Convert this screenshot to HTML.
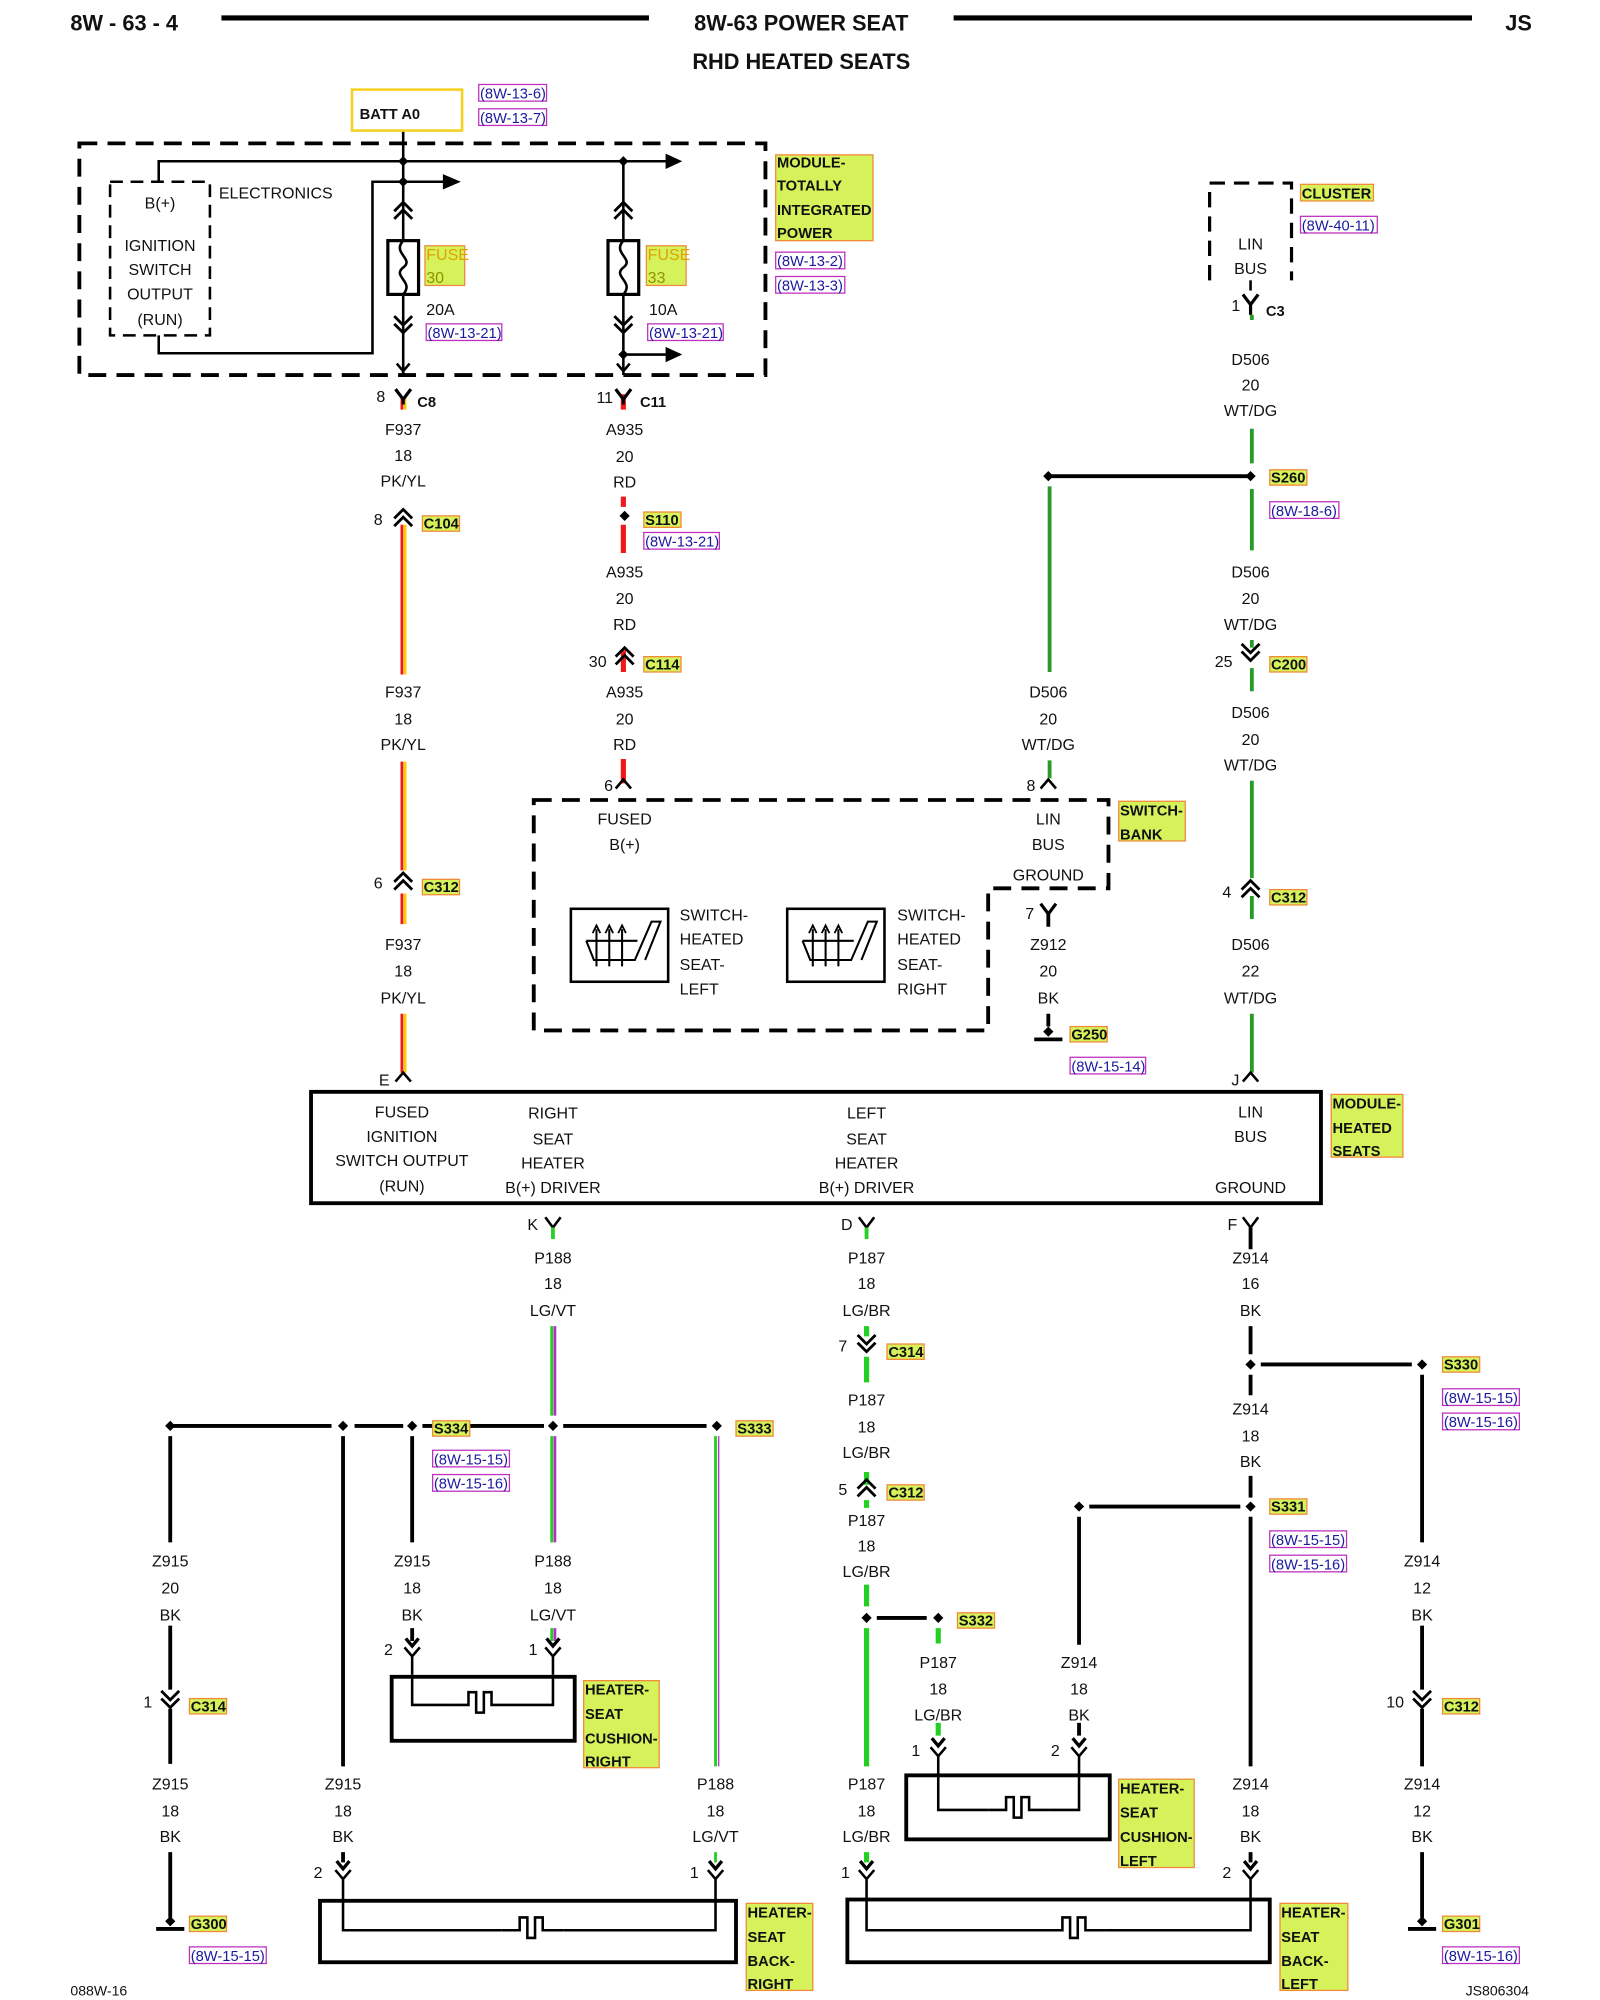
<!DOCTYPE html>
<html><head><meta charset="utf-8"><style>
html,body{margin:0;padding:0;background:#fff}
svg{display:block}
text{font-family:"Liberation Sans",sans-serif;font-size:12.5px;fill:#111}
.m{text-anchor:middle}
.b{font-weight:bold}
.r{font-size:11.5px;fill:#1a1aa0}
.t{font-weight:bold;font-size:11.5px}
.k{stroke:#000;stroke-width:3;fill:none}
.d{stroke:#000;stroke-width:3;fill:none;stroke-dasharray:14 8}
.th{stroke:#000;stroke-width:2;fill:none}
</style></head><body>
<svg width="1600" height="2000" viewBox="0 0 1250 1562.5" xmlns="http://www.w3.org/2000/svg">
<defs>
<g id="Y"><path d="M-6,-8 L0,0 L6,-8 M0,0 V4" stroke="#000" stroke-width="2.5" fill="none"/></g>
<g id="U"><path d="M-7,5 L0,-2 L7,5 M-7,11 L0,4 L7,11" stroke="#000" stroke-width="2.2" fill="none"/></g>
<g id="V"><path d="M-7,-5 L0,2 L7,-5 M-7,-11 L0,-4 L7,-11" stroke="#000" stroke-width="2.2" fill="none"/></g>
<g id="T"><path d="M-5,-14 L0,-8 L5,-14" stroke="#000" stroke-width="2.6" fill="none"/><path d="M-6,-7 L0,0 L6,-7 M0,0 V14" stroke="#000" stroke-width="2" fill="none"/></g>
<g id="D"><path d="M0,-4 L4,0 L0,4 L-4,0Z" fill="#000"/></g>
<g id="G"><path d="M0,-4 L4,0 L0,4 L-4,0Z" fill="#000"/><path d="M-11,6 H11" stroke="#000" stroke-width="3"/></g>
<g id="H"><path d="M-24,0 H-10 V-10 H-4 V6 H2 V-10 H8 V0 H24" stroke="#000" stroke-width="2" fill="none"/></g>
<g id="SW"><rect x="0" y="0" width="76" height="57" fill="none" stroke="#000" stroke-width="2"/><path d="M12,25 L18,40 H50 L63,10 H70 L58,40 M20,45 V16 M30,45 V16 M40,45 V16 M12,25 H52" stroke="#000" stroke-width="1.6" fill="none"/><path d="M17,19 L20,13 L23,19 M27,19 L30,13 L33,19 M37,19 L40,13 L43,19" stroke="#000" stroke-width="1.4" fill="none"/></g>
</defs>

<!-- header -->
<text x="55" y="24" class="b" style="font-size:17px">8W - 63 - 4</text>
<line x1="173" y1="14" x2="507" y2="14" stroke="#000" stroke-width="4"/>
<text x="626" y="24" class="b m" style="font-size:17px">8W-63 POWER SEAT</text>
<line x1="745" y1="14" x2="1150" y2="14" stroke="#000" stroke-width="4"/>
<text x="1176" y="24" class="b" style="font-size:17px">JS</text>
<text x="626" y="54" class="b m" style="font-size:17px">RHD HEATED SEATS</text>

<!-- BATT -->
<rect x="275" y="70" width="86" height="32" fill="none" stroke="#f5d020" stroke-width="2"/>
<text x="281" y="93" class="t">BATT A0</text>
<rect x="374" y="66" width="53" height="13" fill="none" stroke="#c030c0"/><text x="375" y="77" class="r">(8W-13-6)</text>
<rect x="374" y="85" width="53" height="13" fill="none" stroke="#c030c0"/><text x="375" y="96" class="r">(8W-13-7)</text>

<!-- TIPM -->
<rect x="62" y="112" width="536" height="181" class="d"/>
<path d="M315,103 V293 M124,142 V126 H522" class="th"/>
<path d="M520,120 L533,126 L520,132Z"/>
<rect x="86" y="142" width="78" height="120" class="d" style="stroke-width:2;stroke-dasharray:10 6"/>
<text x="171" y="155">ELECTRONICS</text>
<text x="125" y="163" class="m">B(+)</text>
<text x="125" y="196" class="m">IGNITION</text>
<text x="125" y="215" class="m">SWITCH</text>
<text x="125" y="234" class="m">OUTPUT</text>
<text x="125" y="254" class="m">(RUN)</text>
<path d="M124,262 V276 H291 V142 H348" class="th"/>
<path d="M346,136 L360,142 L346,148Z"/>
<path d="M487,126 V293 M487,277 H522" class="th"/>
<path d="M520,271 L533,277 L520,283Z"/>
<use href="#D" x="315" y="126"/><use href="#D" x="487" y="126"/><use href="#D" x="315" y="142"/><use href="#D" x="487" y="277"/>
<use href="#U" x="315" y="160"/><use href="#U" x="487" y="160"/>
<use href="#V" x="315" y="258"/><use href="#V" x="487" y="258"/>
<path d="M315,290 l-5,-6 M315,290 l5,-6 M487,290 l-5,-6 M487,290 l5,-6" class="th"/>
<rect x="303" y="188" width="24" height="42" fill="#fff" stroke="#000" stroke-width="2.5"/>
<path d="M315,188 C306,198 324,202 315,209 C306,216 324,220 315,230" class="th" stroke-width="1.5"/>
<rect x="475" y="188" width="24" height="42" fill="#fff" stroke="#000" stroke-width="2.5"/>
<path d="M487,188 C478,198 496,202 487,209 C478,216 496,220 487,230" class="th" stroke-width="1.5"/>
<rect x="332" y="192" width="31" height="31" fill="#d6f25a" stroke="#f08a3a"/>
<text x="333" y="203" style="fill:#e0a000">FUSE</text><text x="333" y="221" style="fill:#909000">30</text>
<rect x="505" y="192" width="31" height="31" fill="#d6f25a" stroke="#f08a3a"/>
<text x="506" y="203" style="fill:#e0a000">FUSE</text><text x="506" y="221" style="fill:#909000">33</text>
<text x="333" y="246">20A</text>
<rect x="333" y="253" width="59" height="13" fill="none" stroke="#c030c0"/><text x="334" y="264" class="r">(8W-13-21)</text>
<text x="507" y="246">10A</text>
<rect x="506" y="253" width="59" height="13" fill="none" stroke="#c030c0"/><text x="507" y="264" class="r">(8W-13-21)</text>
<rect x="606" y="121" width="76" height="67" fill="#d6f25a" stroke="#f08a3a"/>
<text x="607" y="131" class="t">MODULE-</text><text x="607" y="149" class="t">TOTALLY</text><text x="607" y="168" class="t">INTEGRATED</text><text x="607" y="186" class="t">POWER</text>
<rect x="606" y="197" width="54" height="13" fill="none" stroke="#c030c0"/><text x="607" y="208" class="r">(8W-13-2)</text>
<rect x="606" y="216" width="54" height="13" fill="none" stroke="#c030c0"/><text x="607" y="227" class="r">(8W-13-3)</text>

<!-- F937 column -->
<g stroke-width="2.2">
<path d="M314,310 V320 M314,410 V527 M314,595 V680 M314,698 V722 M314,792 V838" stroke="#f01818"/>
<path d="M316.5,310 V320 M316.5,410 V527 M316.5,595 V680 M316.5,698 V722 M316.5,792 V838" stroke="#f5d000"/>
</g>
<use href="#Y" x="315" y="312"/>
<text x="294" y="314">8</text><text x="326" y="318" class="t">C8</text>
<text x="315" y="340" class="m">F937</text><text x="315" y="360" class="m">18</text><text x="315" y="380" class="m">PK/YL</text>
<use href="#U" x="315" y="400"/><text x="292" y="410">8</text>
<rect x="330" y="403" width="29" height="12" fill="#d6f25a" stroke="#f08a3a"/><text x="331" y="413" class="t">C104</text>
<text x="315" y="545" class="m">F937</text><text x="315" y="566" class="m">18</text><text x="315" y="586" class="m">PK/YL</text>
<use href="#U" x="315" y="684"/><text x="292" y="694">6</text>
<rect x="330" y="687" width="29" height="12" fill="#d6f25a" stroke="#f08a3a"/><text x="331" y="697" class="t">C312</text>
<text x="315" y="742" class="m">F937</text><text x="315" y="763" class="m">18</text><text x="315" y="784" class="m">PK/YL</text>
<path d="M309,845 L315,838 L321,845" class="th"/><text x="296" y="848">E</text>

<!-- A935 -->
<path d="M487,308 V320 M487,388 V396 M487,410 V432 M487,508 V525 M487,593 V612" stroke="#f01818" stroke-width="4"/>
<use href="#Y" x="487" y="312"/>
<text x="466" y="315">11</text><text x="500" y="318" class="t">C11</text>
<text x="488" y="340" class="m">A935</text><text x="488" y="361" class="m">20</text><text x="488" y="381" class="m">RD</text>
<use href="#D" x="488" y="403"/>
<rect x="503" y="400" width="29" height="12" fill="#d6f25a" stroke="#f08a3a"/><text x="504" y="410" class="t">S110</text>
<rect x="503" y="416" width="59" height="13" fill="none" stroke="#c030c0"/><text x="504" y="427" class="r">(8W-13-21)</text>
<text x="488" y="451" class="m">A935</text><text x="488" y="472" class="m">20</text><text x="488" y="492" class="m">RD</text>
<use href="#U" x="488" y="508"/><text x="460" y="521">30</text>
<rect x="503" y="513" width="29" height="12" fill="#d6f25a" stroke="#f08a3a"/><text x="504" y="523" class="t">C114</text>
<text x="488" y="545" class="m">A935</text><text x="488" y="566" class="m">20</text><text x="488" y="586" class="m">RD</text>
<path d="M481,616 L487,609 L493,616" class="th"/><text x="472" y="618">6</text>

<!-- switch bank -->
<path d="M417,625 H866 V694 H772 V805 H417 Z" class="d"/>
<text x="488" y="644" class="m">FUSED</text><text x="488" y="664" class="m">B(+)</text>
<text x="819" y="644" class="m">LIN</text><text x="819" y="664" class="m">BUS</text><text x="819" y="688" class="m">GROUND</text>
<use href="#SW" x="446" y="710"/><use href="#SW" x="615" y="710"/>
<text x="531" y="719">SWITCH-</text><text x="531" y="738">HEATED</text><text x="531" y="758">SEAT-</text><text x="531" y="777">LEFT</text>
<text x="701" y="719">SWITCH-</text><text x="701" y="738">HEATED</text><text x="701" y="758">SEAT-</text><text x="701" y="777">RIGHT</text>
<rect x="874" y="626" width="52" height="31" fill="#d6f25a" stroke="#f08a3a"/>
<text x="875" y="637" class="t">SWITCH-</text><text x="875" y="656" class="t">BANK</text>
<path d="M819,714 V724 M819,792 V802" stroke="#000" stroke-width="3"/>
<path d="M813,706 L819,714 L825,706" stroke="#000" stroke-width="2.5" fill="none"/>
<text x="801" y="718">7</text>
<text x="819" y="742" class="m">Z912</text><text x="819" y="763" class="m">20</text><text x="819" y="784" class="m">BK</text>
<use href="#G" x="819" y="806"/>
<rect x="836" y="802" width="29" height="12" fill="#d6f25a" stroke="#f08a3a"/><text x="837" y="812" class="t">G250</text>
<rect x="836" y="826" width="59" height="13" fill="none" stroke="#c030c0"/><text x="837" y="837" class="r">(8W-15-14)</text>

<!-- D506 left -->
<path d="M819,372 H977" class="k" stroke-width="2.5"/>
<use href="#D" x="819" y="372"/><use href="#D" x="977" y="372"/>
<path d="M820,380 V525 M820,594 V608" stroke="#2a9a2a" stroke-width="3"/>
<text x="819" y="545" class="m">D506</text><text x="819" y="566" class="m">20</text><text x="819" y="586" class="m">WT/DG</text>
<path d="M813,616 L819,609 L825,616" class="th"/><text x="802" y="618">8</text>

<!-- cluster -->
<path d="M945,219 V143 H1009 V219" class="d" style="stroke-width:2.5;stroke-dasharray:12 7"/>
<text x="977" y="195" class="m">LIN</text><text x="977" y="214" class="m">BUS</text>
<rect x="1016" y="144" width="57" height="13" fill="#d6f25a" stroke="#f08a3a"/><text x="1017" y="155" class="t">CLUSTER</text>
<rect x="1016" y="169" width="60" height="13" fill="none" stroke="#c030c0"/><text x="1017" y="180" class="r">(8W-40-11)</text>
<path d="M977,219 V227" stroke="#000" stroke-width="2"/>
<path d="M971,230 L977,238 L983,230 M977,238 V246" stroke="#000" stroke-width="2.5" fill="none"/>
<text x="962" y="243">1</text><text x="989" y="247" class="t">C3</text>
<g stroke="#2a9a2a" stroke-width="3">
<path d="M978,246 V250 M978,335 V362 M978,382 V430 M978,500 V506 M978,522 V540 M978,610 V686 M978,700 V718 M978,792 V838"/>
</g>
<text x="977" y="285" class="m">D506</text><text x="977" y="305" class="m">20</text><text x="977" y="325" class="m">WT/DG</text>
<rect x="992" y="367" width="29" height="12" fill="#d6f25a" stroke="#f08a3a"/><text x="993" y="377" class="t">S260</text>
<rect x="992" y="392" width="54" height="13" fill="none" stroke="#c030c0"/><text x="993" y="403" class="r">(8W-18-6)</text>
<text x="977" y="451" class="m">D506</text><text x="977" y="472" class="m">20</text><text x="977" y="492" class="m">WT/DG</text>
<use href="#V" x="977" y="514"/><text x="949" y="521">25</text>
<rect x="992" y="513" width="29" height="12" fill="#d6f25a" stroke="#f08a3a"/><text x="993" y="523" class="t">C200</text>
<text x="977" y="561" class="m">D506</text><text x="977" y="582" class="m">20</text><text x="977" y="602" class="m">WT/DG</text>
<use href="#U" x="977" y="690"/><text x="955" y="701">4</text>
<rect x="992" y="695" width="29" height="12" fill="#d6f25a" stroke="#f08a3a"/><text x="993" y="705" class="t">C312</text>
<text x="977" y="742" class="m">D506</text><text x="977" y="763" class="m">22</text><text x="977" y="784" class="m">WT/DG</text>
<path d="M971,845 L977,838 L983,845" class="th"/><text x="962" y="848">J</text>

<!-- heated seats module -->
<rect x="243" y="853" width="789" height="87" fill="none" stroke="#000" stroke-width="3"/>
<text x="314" y="873" class="m">FUSED</text><text x="314" y="892" class="m">IGNITION</text><text x="314" y="911" class="m">SWITCH OUTPUT</text><text x="314" y="931" class="m">(RUN)</text>
<text x="432" y="874" class="m">RIGHT</text><text x="432" y="894" class="m">SEAT</text><text x="432" y="913" class="m">HEATER</text><text x="432" y="932" class="m">B(+) DRIVER</text>
<text x="677" y="874" class="m">LEFT</text><text x="677" y="894" class="m">SEAT</text><text x="677" y="913" class="m">HEATER</text><text x="677" y="932" class="m">B(+) DRIVER</text>
<text x="977" y="873" class="m">LIN</text><text x="977" y="892" class="m">BUS</text><text x="977" y="932" class="m">GROUND</text>
<rect x="1040" y="855" width="56" height="49" fill="#d6f25a" stroke="#f08a3a"/>
<text x="1041" y="866" class="t">MODULE-</text><text x="1041" y="885" class="t">HEATED</text><text x="1041" y="903" class="t">SEATS</text>

<!-- connectors under module -->
<path d="M426,951 L432,959 L438,951" class="th" stroke-width="2.5"/><text x="412" y="961">K</text>
<path d="M671,951 L677,959 L683,951" class="th" stroke-width="2.5"/><text x="657" y="961">D</text>
<path d="M971,951 L977,959 L983,951" class="th" stroke-width="2.5"/><text x="959" y="961">F</text>
<path d="M432,959 V968 M677,959 V968" stroke="#2ad02a" stroke-width="3"/>
<path d="M977,959 V968" stroke="#000" stroke-width="3"/>

<!-- P188 -->
<g stroke-width="2.2">
<path d="M431,1036 V1106 M431,1122 V1205 M431,1272 V1282 M559,1122 V1380 M559,1447 V1455" stroke="#22d022"/>
<path d="M433.5,1036 V1106 M433.5,1122 V1205 M433.5,1272 V1282" stroke="#b030c0"/>
<path d="M561.5,1122 V1380" stroke="#b030c0" stroke-width="1"/>
</g>
<text x="432" y="987" class="m">P188</text><text x="432" y="1007" class="m">18</text><text x="432" y="1028" class="m">LG/VT</text>
<path d="M133,1114 H259 M277,1114 H315 M330,1114 H425 M440,1114 H552" class="k" stroke-width="2.5"/>
<use href="#D" x="133" y="1114"/><use href="#D" x="268" y="1114"/><use href="#D" x="322" y="1114"/><use href="#D" x="432" y="1114"/><use href="#D" x="560" y="1114"/>
<rect x="338" y="1110" width="29" height="12" fill="#d6f25a" stroke="#f08a3a"/><text x="339" y="1120" class="t">S334</text>
<rect x="338" y="1133" width="60" height="13" fill="none" stroke="#c030c0"/><text x="339" y="1144" class="r">(8W-15-15)</text>
<rect x="338" y="1152" width="60" height="13" fill="none" stroke="#c030c0"/><text x="339" y="1163" class="r">(8W-15-16)</text>
<rect x="575" y="1110" width="29" height="12" fill="#d6f25a" stroke="#f08a3a"/><text x="576" y="1120" class="t">S333</text>

<path d="M133,1122 V1205 M133,1270 V1320 M133,1335 V1378 M133,1447 V1498 M268,1122 V1380 M268,1447 V1455 M322,1122 V1205 M322,1272 V1282" class="k"/>
<text x="133" y="1224" class="m">Z915</text><text x="133" y="1245" class="m">20</text><text x="133" y="1266" class="m">BK</text>
<use href="#V" x="133" y="1332"/><text x="112" y="1334">1</text>
<rect x="148" y="1327" width="29" height="12" fill="#d6f25a" stroke="#f08a3a"/><text x="149" y="1337" class="t">C314</text>
<text x="133" y="1398" class="m">Z915</text><text x="133" y="1419" class="m">18</text><text x="133" y="1439" class="m">BK</text>
<use href="#G" x="133" y="1501"/>
<rect x="148" y="1497" width="29" height="12" fill="#d6f25a" stroke="#f08a3a"/><text x="149" y="1507" class="t">G300</text>
<rect x="148" y="1521" width="60" height="13" fill="none" stroke="#c030c0"/><text x="149" y="1532" class="r">(8W-15-15)</text>
<text x="268" y="1398" class="m">Z915</text><text x="268" y="1419" class="m">18</text><text x="268" y="1439" class="m">BK</text>
<text x="322" y="1224" class="m">Z915</text><text x="322" y="1245" class="m">18</text><text x="322" y="1266" class="m">BK</text>
<text x="432" y="1224" class="m">P188</text><text x="432" y="1245" class="m">18</text><text x="432" y="1266" class="m">LG/VT</text>
<text x="559" y="1398" class="m">P188</text><text x="559" y="1419" class="m">18</text><text x="559" y="1439" class="m">LG/VT</text>
<use href="#T" x="322" y="1294"/><text x="300" y="1293">2</text>
<use href="#T" x="432" y="1294"/><text x="413" y="1293">1</text>
<use href="#T" x="268" y="1468"/><text x="245" y="1467">2</text>
<use href="#T" x="559" y="1468"/><text x="539" y="1467">1</text>

<!-- cushion right -->
<rect x="306" y="1310" width="143" height="50" fill="none" stroke="#000" stroke-width="3"/>
<path d="M322,1308 V1332 H352 M400,1332 H432 V1308" class="th"/>
<use href="#H" x="376" y="1332"/>
<rect x="456" y="1313" width="59" height="68" fill="#d6f25a" stroke="#f08a3a"/>
<text x="457" y="1324" class="t">HEATER-</text><text x="457" y="1343" class="t">SEAT</text><text x="457" y="1362" class="t">CUSHION-</text><text x="457" y="1380" class="t">RIGHT</text>

<!-- back right -->
<rect x="250" y="1485" width="325" height="48" fill="none" stroke="#000" stroke-width="3"/>
<path d="M268,1482 V1508 H392 M440,1508 H559 V1482" class="th"/>
<use href="#H" x="416" y="1508"/>
<rect x="583" y="1487" width="52" height="68" fill="#d6f25a" stroke="#f08a3a"/>
<text x="584" y="1498" class="t">HEATER-</text><text x="584" y="1517" class="t">SEAT</text><text x="584" y="1536" class="t">BACK-</text><text x="584" y="1554" class="t">RIGHT</text>

<!-- P187 -->
<g stroke="#22d022" stroke-width="4">
<path d="M677,1036 V1044 M677,1060 V1080 M677,1150 V1160 M677,1172 V1178 M677,1238 V1255 M677,1272 V1380 M677,1447 V1455 M733,1272 V1284 M733,1346 V1356"/>
</g>
<text x="677" y="987" class="m">P187</text><text x="677" y="1007" class="m">18</text><text x="677" y="1028" class="m">LG/BR</text>
<use href="#V" x="677" y="1054"/><text x="655" y="1056">7</text>
<rect x="693" y="1050" width="29" height="12" fill="#d6f25a" stroke="#f08a3a"/><text x="694" y="1060" class="t">C314</text>
<text x="677" y="1098" class="m">P187</text><text x="677" y="1119" class="m">18</text><text x="677" y="1139" class="m">LG/BR</text>
<use href="#U" x="677" y="1158"/><text x="655" y="1168">5</text>
<rect x="693" y="1160" width="29" height="12" fill="#d6f25a" stroke="#f08a3a"/><text x="694" y="1170" class="t">C312</text>
<text x="677" y="1192" class="m">P187</text><text x="677" y="1212" class="m">18</text><text x="677" y="1232" class="m">LG/BR</text>
<path d="M685,1264 H724" class="k" stroke-width="2.5"/>
<use href="#D" x="677" y="1264"/><use href="#D" x="733" y="1264"/>
<rect x="748" y="1260" width="29" height="12" fill="#d6f25a" stroke="#f08a3a"/><text x="749" y="1270" class="t">S332</text>
<text x="733" y="1303" class="m">P187</text><text x="733" y="1324" class="m">18</text><text x="733" y="1344" class="m">LG/BR</text>
<use href="#T" x="733" y="1372"/><text x="712" y="1372">1</text>
<text x="677" y="1398" class="m">P187</text><text x="677" y="1419" class="m">18</text><text x="677" y="1439" class="m">LG/BR</text>
<use href="#T" x="677" y="1468"/><text x="657" y="1467">1</text>

<!-- Z914 -->
<path d="M977,968 V976 M977,1036 V1058 M977,1074 V1090 M977,1153 V1170 M977,1185 V1380 M977,1447 V1455 M843,1185 V1285 M843,1346 V1356 M1111,1074 V1205 M1111,1270 V1320 M1111,1335 V1380 M1111,1447 V1498" class="k"/>
<path d="M985,1066 H1103 M851,1177 H969" class="k" stroke-width="2.5"/>
<use href="#D" x="977" y="1066"/><use href="#D" x="1111" y="1066"/><use href="#D" x="977" y="1177"/><use href="#D" x="843" y="1177"/>
<text x="977" y="987" class="m">Z914</text><text x="977" y="1007" class="m">16</text><text x="977" y="1028" class="m">BK</text>
<rect x="1127" y="1060" width="29" height="12" fill="#d6f25a" stroke="#f08a3a"/><text x="1128" y="1070" class="t">S330</text>
<rect x="1127" y="1085" width="60" height="13" fill="none" stroke="#c030c0"/><text x="1128" y="1096" class="r">(8W-15-15)</text>
<rect x="1127" y="1104" width="60" height="13" fill="none" stroke="#c030c0"/><text x="1128" y="1115" class="r">(8W-15-16)</text>
<text x="977" y="1105" class="m">Z914</text><text x="977" y="1126" class="m">18</text><text x="977" y="1146" class="m">BK</text>
<rect x="992" y="1171" width="29" height="12" fill="#d6f25a" stroke="#f08a3a"/><text x="993" y="1181" class="t">S331</text>
<rect x="992" y="1196" width="60" height="13" fill="none" stroke="#c030c0"/><text x="993" y="1207" class="r">(8W-15-15)</text>
<rect x="992" y="1215" width="60" height="13" fill="none" stroke="#c030c0"/><text x="993" y="1226" class="r">(8W-15-16)</text>
<text x="843" y="1303" class="m">Z914</text><text x="843" y="1324" class="m">18</text><text x="843" y="1344" class="m">BK</text>
<use href="#T" x="843" y="1372"/><text x="821" y="1372">2</text>
<text x="1111" y="1224" class="m">Z914</text><text x="1111" y="1245" class="m">12</text><text x="1111" y="1266" class="m">BK</text>
<use href="#V" x="1111" y="1332"/><text x="1083" y="1334">10</text>
<rect x="1127" y="1327" width="29" height="12" fill="#d6f25a" stroke="#f08a3a"/><text x="1128" y="1337" class="t">C312</text>
<text x="977" y="1398" class="m">Z914</text><text x="977" y="1419" class="m">18</text><text x="977" y="1439" class="m">BK</text>
<use href="#T" x="977" y="1468"/><text x="955" y="1467">2</text>
<text x="1111" y="1398" class="m">Z914</text><text x="1111" y="1419" class="m">12</text><text x="1111" y="1439" class="m">BK</text>
<use href="#G" x="1111" y="1501"/>
<rect x="1127" y="1497" width="29" height="12" fill="#d6f25a" stroke="#f08a3a"/><text x="1128" y="1507" class="t">G301</text>
<rect x="1127" y="1521" width="60" height="13" fill="none" stroke="#c030c0"/><text x="1128" y="1532" class="r">(8W-15-16)</text>

<!-- cushion left -->
<rect x="708" y="1387" width="159" height="50" fill="none" stroke="#000" stroke-width="3"/>
<path d="M733,1386 V1414 H772 M820,1414 H843 V1386" class="th"/>
<use href="#H" x="796" y="1414"/>
<rect x="874" y="1390" width="59" height="69" fill="#d6f25a" stroke="#f08a3a"/>
<text x="875" y="1401" class="t">HEATER-</text><text x="875" y="1420" class="t">SEAT</text><text x="875" y="1439" class="t">CUSHION-</text><text x="875" y="1458" class="t">LEFT</text>

<!-- back left -->
<rect x="662" y="1484" width="330" height="49" fill="none" stroke="#000" stroke-width="3"/>
<path d="M677,1482 V1508 H816 M864,1508 H977 V1482" class="th"/>
<use href="#H" x="840" y="1508"/>
<rect x="1000" y="1487" width="53" height="68" fill="#d6f25a" stroke="#f08a3a"/>
<text x="1001" y="1498" class="t">HEATER-</text><text x="1001" y="1517" class="t">SEAT</text><text x="1001" y="1536" class="t">BACK-</text><text x="1001" y="1554" class="t">LEFT</text>

<text x="55" y="1559" style="font-size:11px">088W-16</text>
<text x="1145" y="1559" style="font-size:11px">JS806304</text>
</svg>
</body></html>
